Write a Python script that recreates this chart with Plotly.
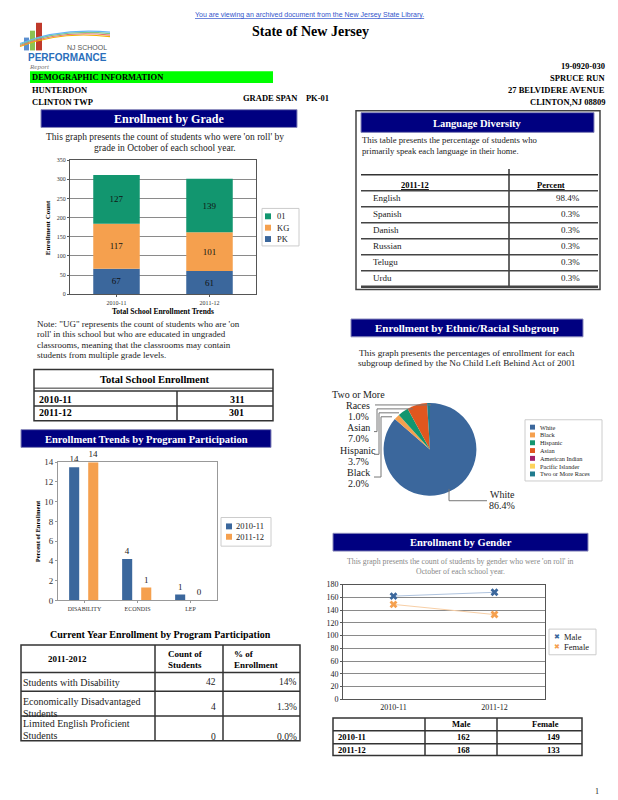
import plotly.graph_objects as go

W, H = 618, 800
SERIF = "Liberation Serif, Times New Roman, serif"
SANS = "Liberation Sans, Arial, sans-serif"

# ---------------- data ----------------
years = ["2010-11", "2011-12"]
grade_names = ["PK", "KG", "01"]
grade_pk = [67, 61]
grade_kg = [117, 101]
grade_01 = [127, 139]
total_enrollment = [311, 301]

programs = ["DISABILITY", "ECONDIS", "LEP"]
program_pct_2010 = [13.5, 4.2, 0.6]
program_pct_2011 = [14.0, 1.3, 0.0]

current_programs = ["Students with Disability",
                    "Economically Disadvantaged<br>Students",
                    "Limited English Proficient<br>Students"]
current_counts = [42, 4, 0]
current_pcts = ["14%", "1.3%", "0.0%"]

languages = ["English", "Spanish", "Danish", "Russian", "Telugu", "Urdu"]
language_pcts = ["98.4%", "0.3%", "0.3%", "0.3%", "0.3%", "0.3%"]

ethnic_groups = ["White", "Black", "Hispanic", "Asian", "American Indian",
                 "Pacific Islander", "Two or More Races"]
ethnic_pcts = [86.4, 2.0, 3.7, 7.0, 0.0, 0.0, 1.0]

male = [162, 168]
female = [149, 133]

# ---------------- styles ----------------
BLUE = "#3B679C"
ORANGE = "#F5A04E"
GREEN = "#12966F"
ETH_COLORS = [BLUE, ORANGE, GREEN, "#E0571F", "#A3206B", "#FDD35B", "#1F7B8D"]
NAVY = "#000080"

A, S = [], []


def T(x, y, s, size=9, color="black", anchor="left", bold=False, family=SERIF,
      italic=False, angle=0, align="left"):
    if bold:
        s = f"<b>{s}</b>"
    if italic:
        s = f"<i>{s}</i>"
    A.append(dict(x=x / W, y=1 - y / H, xref="paper", yref="paper", text=s,
                  showarrow=False, xanchor=anchor, yanchor="middle", align=align,
                  textangle=angle, borderpad=0,
                  font=dict(family=family, size=size, color=color)))


def ML(x, y, s, gap, **kw):
    """multi-line text, first line centred at y, explicit line gap"""
    for k, line in enumerate(s.split("<br>")):
        T(x, y + k * gap, line, **kw)


def R(x0, y0, x1, y1, fill=None, lc=None, lw=1):
    S.append(dict(type="rect", xref="paper", yref="paper",
                  x0=x0 / W, x1=x1 / W, y0=1 - y1 / H, y1=1 - y0 / H,
                  fillcolor=fill or "rgba(0,0,0,0)",
                  line=dict(color=lc or "rgba(0,0,0,0)", width=lw if lc else 0)))


def L(x0, y0, x1, y1, c="#333", w=1):
    S.append(dict(type="line", xref="paper", yref="paper",
                  x0=x0 / W, x1=x1 / W, y0=1 - y0 / H, y1=1 - y1 / H,
                  line=dict(color=c, width=w)))


def header(x0, y0, x1, y1, s, size):
    R(x0, y0, x1, y1, fill=NAVY, lc="#8888bb", lw=1)
    T((x0 + x1) / 2, (y0 + y1) / 2 + 0.5, s, size=size, color="white", anchor="center", bold=True)


fig = go.Figure()

# ---------------- Enrollment by grade (stacked) ----------------
grade_series = [grade_pk, grade_kg, grade_01]
grade_colors = [BLUE, ORANGE, GREEN]
base = [0] * len(years)
for name, vals, col in zip(grade_names, grade_series, grade_colors):
    fig.add_trace(go.Bar(x=years, y=vals, base=list(base), name=name, marker_color=col,
                         marker_line_width=0, width=0.5, text=vals,
                         textposition="inside", insidetextanchor="middle",
                         textfont=dict(family=SERIF, size=9, color="#111"),
                         xaxis="x", yaxis="y", showlegend=False))
    base = [b + v for b, v in zip(base, vals)]

# ---------------- Program participation (grouped) ----------------
for name, vals, col, off in [(years[0], program_pct_2010, BLUE, -0.29),
                             (years[1], program_pct_2011, ORANGE, 0.07)]:
    fig.add_trace(go.Bar(x=programs, y=vals, name=name, marker_color=col,
                         marker_line_width=0, width=0.19, offset=off,
                         texttemplate="%{y:.0f}", textposition="outside",
                         cliponaxis=False,
                         textfont=dict(family=SERIF, size=9, color="#222"),
                         xaxis="x2", yaxis="y2", showlegend=False))

# ---------------- Gender lines ----------------
fig.add_trace(go.Scatter(x=years, y=male, mode="lines+markers", name="Male",
                         line=dict(color="#AFC3DE", width=1),
                         marker=dict(symbol="x", size=7, color=BLUE),
                         xaxis="x3", yaxis="y3", showlegend=False))
fig.add_trace(go.Scatter(x=years, y=female, mode="lines+markers", name="Female",
                         line=dict(color="#F8CFA6", width=1),
                         marker=dict(symbol="x", size=7, color=ORANGE),
                         xaxis="x3", yaxis="y3", showlegend=False))

# ---------------- Pie ----------------
pcx, pcy, pr = 430, 450, 47
fig.add_trace(go.Pie(labels=ethnic_groups, values=ethnic_pcts, sort=False,
                     direction="clockwise", rotation=0, textinfo="none",
                     marker=dict(colors=ETH_COLORS, line=dict(width=0)),
                     domain=dict(x=[(pcx - pr) / W, (pcx + pr) / W],
                                 y=[1 - (pcy + pr) / H, 1 - (pcy - pr) / H]),
                     showlegend=False))

tick_font = dict(family=SERIF, size=6, color="#333")
fig.update_layout(
    width=W, height=H, margin=dict(l=0, r=0, t=0, b=0),
    paper_bgcolor="white", plot_bgcolor="white", barmode="overlay",
    xaxis=dict(domain=[70 / W, 256 / W], anchor="y", type="category", range=[-0.5, 1.5],
               showline=True, mirror=True, linecolor="#555", linewidth=1,
               tickfont=tick_font, ticks="outside", ticklen=2, tickcolor="#555", fixedrange=True),
    yaxis=dict(domain=[1 - 293 / H, 1 - 157 / H], anchor="x", range=[0, 350], dtick=50,
               showgrid=True, gridcolor="#8a8a8a", gridwidth=1, showline=True, mirror=True,
               linecolor="#555", tickfont=tick_font, ticks="outside", ticklen=2,
               tickcolor="#555", zeroline=False),
    xaxis2=dict(domain=[58 / W, 217 / W], anchor="y2", type="category", range=[-0.5, 2.5],
                showline=True, mirror=True, linecolor="#999", tickfont=tick_font,
                ticks="outside", ticklen=2, tickcolor="#999"),
    yaxis2=dict(domain=[1 - 603 / H, 1 - 463 / H], anchor="x2", range=[0, 14], dtick=2,
                showgrid=False, showline=True, mirror=True, linecolor="#999",
                tickfont=dict(family=SERIF, size=9, color="#333"), ticks="outside",
                ticklen=2, tickcolor="#999", zeroline=False),
    xaxis3=dict(domain=[343 / W, 545 / W], anchor="y3", type="category", range=[-0.5, 1.5],
                showline=True, mirror=True, linecolor="#555",
                tickfont=dict(family=SERIF, size=8, color="#222"), ticks=""),
    yaxis3=dict(domain=[1 - 703 / H, 1 - 587 / H], anchor="x3", range=[0, 180], dtick=20,
                showgrid=True, gridcolor="#8a8a8a", showline=True, mirror=True,
                linecolor="#555", tickfont=dict(family=SERIF, size=8, color="#222"),
                ticks="outside", ticklen=2, tickcolor="#555", zeroline=False),
)

# ---------------- page header ----------------
T(309, 10, "<u>You are viewing an archived document from the New Jersey State Library.</u>",
  size=7, color="#3355CC", anchor="center", family=SANS)
T(310, 27, "State of New Jersey", size=14, anchor="center", bold=True)

# logo (approximate)
R(24, 33, 29, 46, fill="#5b8fd0")
R(30, 26, 35, 46, fill="#8cc152")
R(36, 18, 42, 46, fill="#c0392b")
for i, c in enumerate(["#f4b400", "#e57373", "#81c784", "#64b5f6"]):
    S.append(dict(type="path", xref="paper", yref="paper",
                  path=f"M {20/W},{1-(42-i)/H} Q {60/W},{1-(26-i)/H} {110/W},{1-(32-i*1.5)/H}",
                  line=dict(color=c, width=1.2)))
T(108, 43, "NJ SCHOOL", size=7, color="#555", anchor="right", family=SANS)
T(67, 53, "PERFORMANCE", size=10, color="#2a6ebb", anchor="center", bold=True, family=SANS)
T(28, 63, "Report", size=7, color="#777", italic=True)

R(30, 67, 273, 79, fill="#00FF00")
T(31, 73, "DEMOGRAPHIC INFORMATION", size=8.5, bold=True)
T(31, 86, "HUNTERDON", size=8.5, bold=True)
T(31, 98, "CLINTON TWP", size=8.5, bold=True)
T(242, 94, "GRADE SPAN&nbsp;&nbsp;&nbsp;&nbsp;PK-01", size=8.5, bold=True)
for yy, s in zip([62, 74, 86, 98], ["19-0920-030", "SPRUCE RUN", "27 BELVIDERE AVENUE", "CLINTON,NJ 08809"]):
    T(606, yy, s, size=8.5, bold=True, anchor="right")

# ---------------- Enrollment by grade ----------------
header(41, 106, 297, 124, "Enrollment by Grade", 12)
T(165, 134, "This graph presents the count of students who were 'on roll' by", size=9.5, color="#222", anchor="center")
T(165, 145, "grade in October of each school year.", size=9.5, color="#222", anchor="center")
T(48, 225, "Enrollment Count", size=7, bold=True, anchor="center", angle=-90)
T(163, 310, "Total School Enrollment Trends", size=7.5, bold=True, anchor="center")
R(262, 206, 299, 244, fill="white", lc="#ccc", lw=1)
for k, (name, col) in enumerate(zip(grade_names[::-1], grade_colors[::-1])):
    yy = 214 + k * 11.5
    R(265, yy - 3, 271, yy + 3, fill=col)
    T(276, yy, name, size=8.5, color="#222")

note = ["Note: \"UG\" represents the count of students who are 'on",
        "roll' in this school but who are educated in ungraded",
        "classrooms, meaning that the classrooms may contain",
        "students from multiple grade levels."]
for k, s in enumerate(note):
    T(36, 323 + k * 10.4, s, size=9, color="#222")

# total enrollment table
R(34, 369, 273, 421, lc="#333", lw=1.5)
L(34, 388, 273, 388, "#333", 1)
L(34, 391, 273, 391, "#333", 1.5)
L(34, 406, 273, 406, "#333", 1.5)
L(177, 391, 177, 421, "#333", 1.5)
T(155, 379, "Total School Enrollment", size=10.5, bold=True, anchor="center")
for k, (yr, tot) in enumerate(zip(years, total_enrollment)):
    T(38, 399 + k * 14, yr, size=10, bold=True)
    T(245, 399 + k * 14, str(tot), size=10, bold=True, anchor="right")

# ---------------- Program participation ----------------
header(21, 430, 271, 448, "Enrollment Trends by Program Participation", 10.5)
T(37, 533, "Percent of Enrollment", size=6.5, bold=True, anchor="center", angle=-90)
R(221, 519, 271, 548, fill="white", lc="#ccc", lw=1)
for k, (name, col) in enumerate(zip(years, [BLUE, ORANGE])):
    yy = 528 + k * 10.5
    R(226, yy - 3, 232, yy + 3, fill=col)
    T(235, yy, name, size=8.5, color="#222")

T(160, 637, "Current Year Enrollment by Program Participation", size=10, bold=True, anchor="center")
R(21, 648, 300, 745, lc="#333", lw=1.5)
for yy in [676, 695, 720]:
    L(21, yy, 300, yy, "#333", 1.5)
for xx in [155, 223]:
    L(xx, 648, xx, 745, "#333", 1.5)
T(67, 662, "2011-2012", size=9, bold=True, anchor="center")
ML(167, 657, "Count of<br>Students", 11, size=9, bold=True)
ML(233, 657, "% of<br>Enrollment", 11, size=9, bold=True)
row_y = [686, 705, 728]
val_y = [686, 711, 741]
for name, cnt, pct, yy, vy in zip(current_programs, current_counts, current_pcts, row_y, val_y):
    ML(22, yy, name, 12, size=10, color="#222")
    T(217, vy, str(cnt), size=9.5, color="#222", anchor="right")
    T(298, vy, pct, size=9.5, color="#222", anchor="right")

# ---------------- Language diversity ----------------
R(356, 107, 600, 288, lc="#444", lw=1.5)
header(361, 109, 594, 129, "Language Diversity", 10.5)
T(361, 137, "This table presents the percentage of students who", size=8.7, color="#222")
T(361, 148, "primarily speak each language in their home.", size=8.7, color="#222")
L(361, 172, 598, 172, "#333", 1.5)
L(509, 166, 509, 285, "#333", 1.5)
T(415, 182, "<u>2011-12</u>", size=8.5, bold=True, anchor="center")
T(551, 182, "<u>Percent</u>", size=8.5, bold=True, anchor="center")
for k in range(len(languages) + 1):
    yy = 188 + k * 16.2
    L(361, yy, 598, yy, "#444", 1.5 if k < len(languages) else 2.5)
for k, (lang, pct) in enumerate(zip(languages, language_pcts)):
    yy = 195 + k * 16.2
    T(372, yy, lang, size=9, color="#222")
    T(581, yy, pct, size=9, color="#222", anchor="right")

# ---------------- Ethnic pie ----------------
header(351, 318, 583, 336, "Enrollment by Ethnic/Racial Subgroup", 11)
T(467, 352, "This graph presents the percentages of enrollment for each", size=9.2, color="#222", anchor="center")
T(467, 363, "subgroup defined by the No Child Left Behind Act of 2001", size=9.2, color="#222", anchor="center")

label_pos = {"Two or More Races": (358, 394), "Asian": (358, 428), "Hispanic": (358, 451),
             "Black": (358, 473), "White": (502, 496)}
for g, p in zip(ethnic_groups, ethnic_pcts):
    if g in label_pos:
        x, y = label_pos[g]
        name = "Two or More<br>Races" if g == "Two or More Races" else g
        ML(x, y, f"{name}<br>{p:.1f}%", 11.3, size=10, color="#222", anchor="center")
LC = "#777"
L(375, 405, 431, 405, LC, 1)
L(377, 409, 413, 409, LC, 1); L(377, 409, 377, 432, LC, 1); L(374, 432, 377, 432, LC, 1)
L(379, 413, 399, 413, LC, 1); L(379, 413, 379, 455, LC, 1); L(374, 455, 379, 455, LC, 1)
L(381, 417, 392, 417, LC, 1); L(381, 417, 381, 478, LC, 1); L(374, 478, 381, 478, LC, 1)
L(449, 490, 449, 502, LC, 1); L(449, 502, 487, 502, LC, 1)

R(525, 420, 602, 482, fill="white", lc="#ccc", lw=1)
for k, (g, col) in enumerate(zip(ethnic_groups, ETH_COLORS)):
    yy = 427.5 + k * 7.9
    R(530, yy - 2.5, 535, yy + 2.5, fill=col)
    T(539, yy, g, size=6.3, color="#222")

# ---------------- Gender ----------------
header(333, 535, 588, 553, "Enrollment by Gender", 10.5)
T(460, 564, "This graph presents the count of students by gender who were 'on roll' in", size=7.8, color="#888", anchor="center")
T(460, 574, "October of each school year.", size=7.8, color="#888", anchor="center")
R(549, 632, 596, 658, fill="white", lc="#ccc", lw=1)
for k, (name, col) in enumerate(zip(["Male", "Female"], [BLUE, ORANGE])):
    yy = 640 + k * 10.5
    T(557, yy, "✖", size=7, color=col, anchor="center", family="DejaVu Sans")
    T(563, yy, name, size=8.5, color="#222")

R(333, 722, 582, 760, lc="#333", lw=1.5)
L(333, 735, 582, 735, "#333", 1.5)
L(333, 748, 582, 748, "#333", 1.5)
L(425, 722, 425, 760, "#333", 1.5)
L(497, 722, 497, 760, "#333", 1.5)
T(461, 728.5, "Male", size=8.5, bold=True, anchor="center")
T(545, 728.5, "Female", size=8.5, bold=True, anchor="center")
for k, (yr, m, f) in enumerate(zip(years, male, female)):
    yy = 741.5 + k * 13
    T(337, yy, yr, size=8.5, bold=True)
    T(463, yy, str(m), size=8.5, bold=True, anchor="center")
    T(553, yy, str(f), size=8.5, bold=True, anchor="center")

T(597, 796, "1", size=8, color="#222", anchor="center")

fig.update_layout(annotations=A, shapes=S)
fig.write_html("out.html", config={"displayModeBar": False},
               post_script="document.body.style.margin='0';")
